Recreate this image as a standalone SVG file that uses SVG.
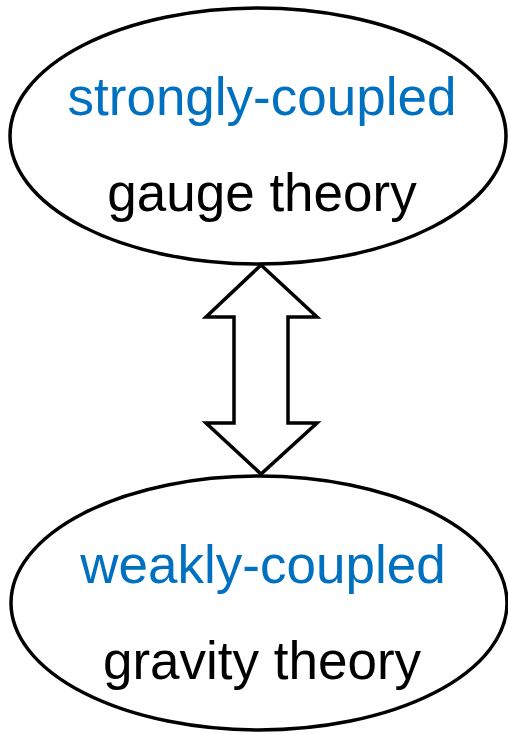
<svg xmlns="http://www.w3.org/2000/svg" width="508" height="734" viewBox="0 0 508 734">
  <style>
    .node { fill: #ffffff; stroke: #000000; stroke-width: 3.5; }
    .label { font-family: "Liberation Sans", Arial, sans-serif; font-size: 53px; text-anchor: middle; }
    .blue { fill: #0070c0; }
    .black { fill: #000000; }
    .arrow { fill: #ffffff; stroke: #000000; stroke-width: 3.5; stroke-linejoin: miter; }
  </style>
  <rect width="508" height="734" fill="#ffffff"/>

  <!-- double-headed block arrow between the two theories -->
  <g id="connectors">
    <path class="arrow" d="M261 265 L317 317 L288 317 L288 423 L317 423 L261 474 L206 423 L234 423 L234 317 L206 317 Z"/>
  </g>

  <g id="gauge">
    <ellipse class="node" cx="258" cy="136" rx="248" ry="128"/>
    <text class="label blue" x="262" y="115">strongly-coupled</text>
    <text class="label black" x="262" y="211">gauge theory</text>
  </g>

  <g id="gravity">
    <ellipse class="node" cx="259" cy="603" rx="248" ry="127"/>
    <text class="label blue" x="263" y="583">weakly-coupled</text>
    <text class="label black" x="262" y="679">gravity theory</text>
  </g>
</svg>
